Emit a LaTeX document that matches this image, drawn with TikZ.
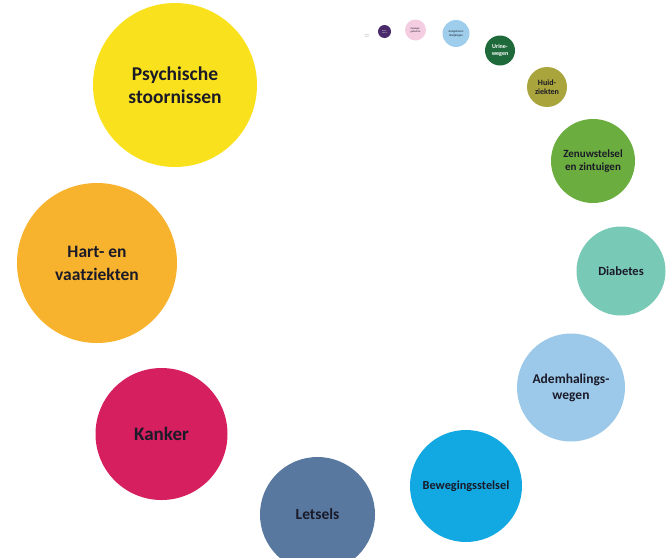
\documentclass[tikz,border=0pt]{standalone}
\usepackage{fontspec}
\setmainfont{Carlito}
\definecolor{cyel}{HTML}{F9E11E}
\definecolor{cora}{HTML}{F8B32E}
\definecolor{ccri}{HTML}{D61F5E}
\definecolor{csla}{HTML}{5878A0}
\definecolor{ccya}{HTML}{12A8E1}
\definecolor{clbl}{HTML}{9CC9E9}
\definecolor{ctea}{HTML}{78C9B6}
\definecolor{cgre}{HTML}{6BAD3E}
\definecolor{coli}{HTML}{A9A43B}
\definecolor{cdgr}{HTML}{1E6A3B}
\definecolor{csbl}{HTML}{9ECEEC}
\definecolor{cpin}{HTML}{F4CDE1}
\definecolor{cpur}{HTML}{4A2A6A}
\definecolor{ctxt}{HTML}{1A1A28}
\tikzset{
  bub/.style={circle, inner sep=0pt, minimum size=#1*2pt, align=center, text=ctxt, font=\bfseries},
}
\begin{document}
\begin{tikzpicture}[x=1pt,y=-1pt]
\useasboundingbox (0,0) rectangle (671,557);
\begin{scope}
\clip (0,0) rectangle (671,557);
\node[bub=82, fill=cyel, font=\bfseries\fontsize{19.5}{23}\selectfont] (psy) at (175,85) {Psychische\\stoornissen};
\node[bub=80, fill=cora, font=\bfseries\fontsize{17.5}{23}\selectfont] (hart) at (97,263) {Hart- en\\vaatziekten};
\node[bub=66, fill=ccri, font=\bfseries\fontsize{19}{23}\selectfont] (kan) at (161.5,434) {Kanker};
\node[bub=57.5, fill=csla, font=\bfseries\fontsize{15.5}{17}\selectfont] (let) at (317.5,514.5) {Letsels};
\node[bub=56, fill=ccya, font=\bfseries\fontsize{12.3}{14}\selectfont] (bew) at (466,486) {Bewegingsstelsel};
\node[bub=54, fill=clbl, font=\bfseries\fontsize{13.5}{16}\selectfont] (adem) at (571,387.5) {Ademhalings-\\wegen};
\node[bub=44.5, fill=ctea, font=\bfseries\fontsize{12.5}{13}\selectfont] (dia) at (621,271) {Diabetes};
\node[bub=42, fill=cgre, font=\bfseries\fontsize{11}{13}\selectfont] (zen) at (593,161) {Zenuwstelsel\\en zintuigen};
\node[bub=20, fill=coli, font=\bfseries\fontsize{8}{9.5}\selectfont] (huid) at (547,87) {Huid-\\ziekten};
\node[bub=15, fill=cdgr, text=white, font=\bfseries\fontsize{6}{7}\selectfont] (uri) at (500,50.5) {Urine-\\wegen};
\node[bub=13.5, fill=csbl, font=\fontsize{3}{3.6}\selectfont] (aang) at (456,33.5) {Aangeboren\\afwijkingen};
\node[bub=10.5, fill=cpin, font=\fontsize{2.6}{3.2}\selectfont] (zw) at (415.5,30) {Zwanger-\\geboorte};
\node[bub=6.5, fill=cpur, text=white, font=\fontsize{1.6}{2}\selectfont] (blo) at (384.5,31.5) {Bloed-\\ziekten};
\node[bub=3, font=\fontsize{1.5}{1.8}\selectfont, text=gray] (inf) at (367,36) {Infectie\\ziekten};
\end{scope}
\end{tikzpicture}
\end{document}
